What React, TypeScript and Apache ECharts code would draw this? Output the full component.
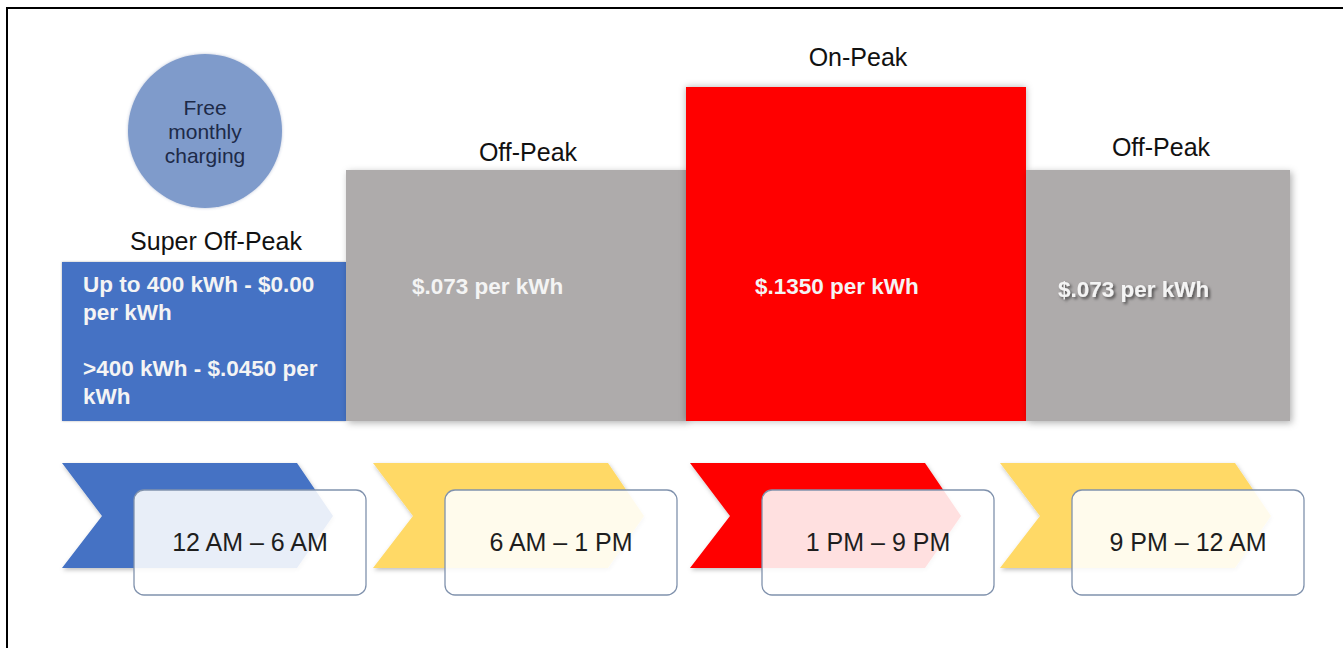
import React, { useEffect, useRef } from "react";
import * as echarts from "echarts";

// ---- data ----
const periods = ["Super Off-Peak", "Off-Peak", "On-Peak", "Off-Peak"];
const segmentStart = [62, 346, 686, 1026];
const segmentEnd = [346, 686, 1026, 1290];
const barHeight = [159, 251, 334, 251];
const rateLabels = [
  "Up to 400 kWh - $0.00\nper kWh\n\n>400 kWh - $.0450 per\nkWh",
  "$.073 per kWh",
  "$.1350 per kWh",
  "$.073 per kWh",
];
const timeRanges = ["12 AM – 6 AM", "6 AM – 1 PM", "1 PM – 9 PM", "9 PM – 12 AM"];
const barColors = ["#4472C4", "#AEABAB", "#FF0000", "#AEABAB"];
const chevronColors = ["#4472C4", "#FFD966", "#FF0000", "#FFD966"];
const circleLines = ["Free", "monthly", "charging"];

// ---- layout ----
const titleDx = [12, 12, 2, 3];
const titleDy = [21, 18, 30, 23];
const rateDx = [21, 66, 69, 32];
const rateTopFromBase = [151, 149, 149, 146];
const chevronX = [62, 373, 690, 1000];
const FONT = "'Liberation Sans', Arial, sans-serif";

export default function App() {
  const ref = useRef<HTMLDivElement>(null);
  useEffect(() => {
    if (!ref.current) return;
    const chart = echarts.init(ref.current, undefined, { renderer: "svg" });

    const data = periods.map((p, i) => [segmentStart[i], segmentEnd[i], barHeight[i], i]);

    const graphics: any[] = [
      { type: "line", shape: { x1: 6, y1: 8, x2: 1343, y2: 8 }, style: { stroke: "#000", lineWidth: 2 }, z: 10 },
      { type: "line", shape: { x1: 7, y1: 7, x2: 7, y2: 648 }, style: { stroke: "#000", lineWidth: 2 }, z: 10 },
      {
        type: "circle",
        shape: { cx: 205, cy: 131, r: 77 },
        style: { fill: "#7F9BCB", shadowBlur: 3, shadowColor: "rgba(60,80,140,0.35)" },
      },
    ];
    circleLines.forEach((t, k) => {
      graphics.push({
        type: "text",
        x: 205,
        y: 107 + k * 24,
        style: {
          text: t,
          font: `21px ${FONT}`,
          fill: "#1D2A48",
          textAlign: "center",
          textVerticalAlign: "middle",
        },
      });
    });
    timeRanges.forEach((t, i) => {
      const x0 = chevronX[i];
      const bw = 235;
      graphics.push({
        type: "polygon",
        shape: {
          points: [
            [x0, 463],
            [x0 + bw, 463],
            [x0 + bw + 36, 516],
            [x0 + bw, 568],
            [x0, 568],
            [x0 + 40, 516],
          ],
        },
        style: {
          fill: chevronColors[i],
          shadowBlur: 4,
          shadowColor: "rgba(0,0,0,0.25)",
          shadowOffsetX: 1,
          shadowOffsetY: 2,
        },
        z: 1,
      });
      graphics.push({
        type: "rect",
        shape: { x: x0 + 72, y: 490, width: 232, height: 105, r: 10 },
        style: {
          fill: "rgba(255,255,255,0.88)",
          stroke: "#8092AD",
          lineWidth: 1.3,
        },
        z: 2,
      });
      graphics.push({
        type: "text",
        x: x0 + 72 + 116,
        y: 542,
        style: {
          text: t,
          font: `25px ${FONT}`,
          fill: "#1E1E1E",
          textAlign: "center",
          textVerticalAlign: "middle",
        },
        z: 3,
      });
    });

    chart.setOption({
      animation: false,
      backgroundColor: "#ffffff",
      grid: { left: 0, right: 0, top: 0, bottom: 227 },
      xAxis: { type: "value", min: 0, max: 1343, show: false },
      yAxis: { type: "value", min: 0, max: 421, show: false },
      series: [
        {
          type: "custom",
          data,
          renderItem: (params: any, api: any) => {
            const i = params.dataIndex;
            const p0 = api.coord([api.value(0), api.value(2)]);
            const p1 = api.coord([api.value(1), 0]);
            const gray = barColors[i] === "#AEABAB";
            return {
              type: "group",
              children: [
                {
                  type: "rect",
                  shape: { x: p0[0], y: p0[1], width: p1[0] - p0[0], height: p1[1] - p0[1] },
                  style: {
                    fill: barColors[i],
                    shadowBlur: i === 0 ? 2 : 7,
                    shadowColor: "rgba(0,0,0,0.3)",
                    shadowOffsetX: gray ? 2 : 0,
                    shadowOffsetY: gray ? 2 : 0,
                  },
                },
                {
                  type: "text",
                  x: (p0[0] + p1[0]) / 2 + titleDx[i],
                  y: p0[1] - titleDy[i],
                  style: {
                    text: periods[i],
                    font: `25px ${FONT}`,
                    fill: "#111",
                    textAlign: "center",
                    textVerticalAlign: "middle",
                  },
                },
                {
                  type: "text",
                  x: p0[0] + rateDx[i],
                  y: p1[1] - rateTopFromBase[i],
                  style: {
                    text: rateLabels[i],
                    font: `bold 22.5px ${FONT}`,
                    lineHeight: 28,
                    fill: "#F4F4F4",
                    textAlign: "left",
                    textVerticalAlign: "top",
                    textShadowColor: i === 3 ? "rgba(0,0,0,0.55)" : "transparent",
                    textShadowBlur: i === 3 ? 3 : 0,
                    textShadowOffsetX: i === 3 ? 2 : 0,
                    textShadowOffsetY: i === 3 ? 2 : 0,
                  },
                },
              ],
            };
          },
        },
      ],
      graphic: graphics,
    });
    return () => chart.dispose();
  }, []);
  return (
    <div
      ref={ref}
      style={{ position: "absolute", left: 0, top: 0, width: 1343, height: 648 }}
    />
  );
}
